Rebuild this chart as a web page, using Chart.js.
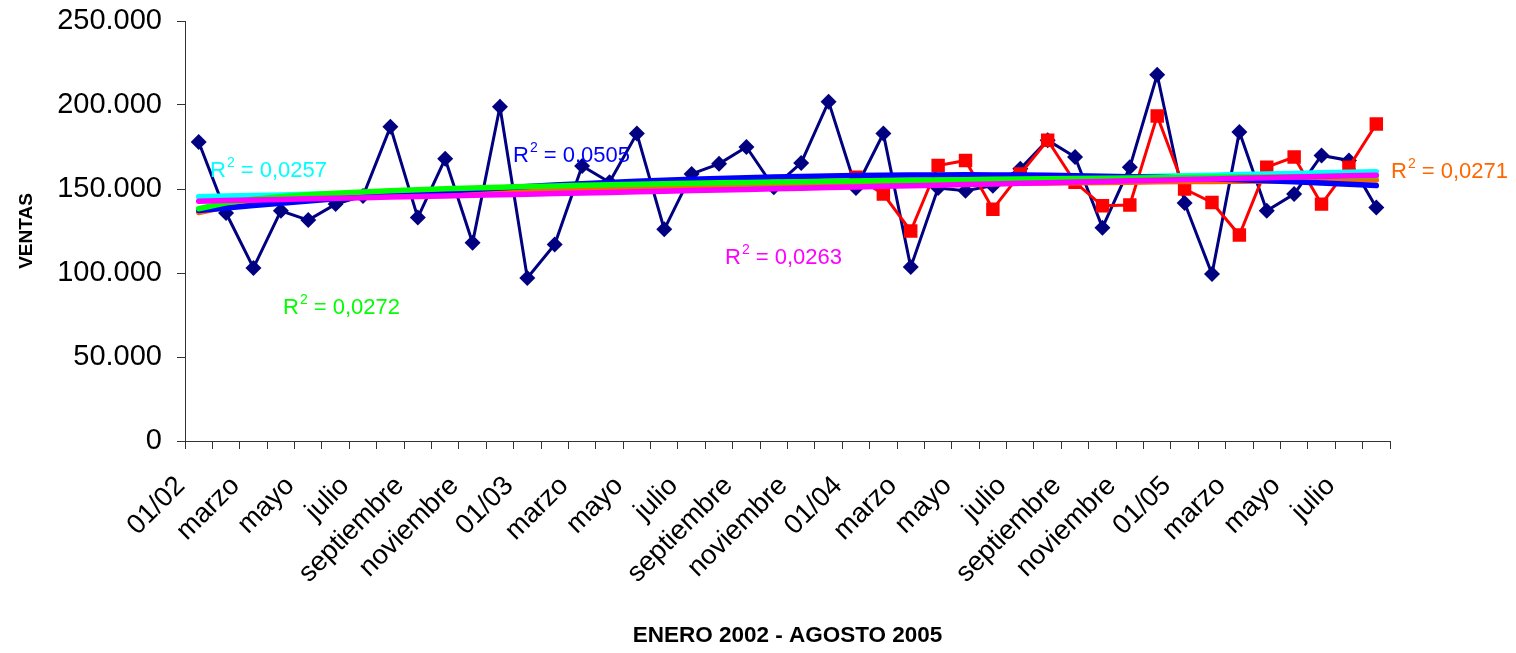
<!DOCTYPE html>
<html>
<head>
<meta charset="utf-8">
<script src="https://cdn.jsdelivr.net/npm/chart.js@4.4.0/dist/chart.umd.min.js"></script>
<style>
  html, body { margin: 0; padding: 0; background: #ffffff; }
  #wrap { width: 1516px; height: 653px; }
</style>
</head>
<body>
<div id="wrap"><canvas id="grafico" width="1516" height="653"></canvas></div>
<script>
// Meses de enero 2002 a agosto 2005
const categories = [
  '01/02','febrero','marzo','abril','mayo','junio','julio','agosto','septiembre','octubre','noviembre','diciembre',
  '01/03','febrero','marzo','abril','mayo','junio','julio','agosto','septiembre','octubre','noviembre','diciembre',
  '01/04','febrero','marzo','abril','mayo','junio','julio','agosto','septiembre','octubre','noviembre','diciembre',
  '01/05','febrero','marzo','abril','mayo','junio','julio','agosto'
];

// Ventas mensuales
const ventas = [
  178000, 135700, 103000, 137000, 131500, 141000, 145800, 187000, 133000, 168000, 118000, 199000,
   97000, 117000, 163700, 154000, 183000, 126000, 159000, 165000, 175000, 151000, 165500, 202000,
  150600, 183000, 103500, 150600, 149000, 152000, 162000, 179000, 169000, 127000, 163000, 218000,
  141700,  99400, 184000, 137000, 147000, 170000, 167000, 139000
];

// Segunda serie (enero 2004 - agosto 2005)
const serieRoja = [
  null, null, null, null, null, null, null, null, null, null, null, null,
  null, null, null, null, null, null, null, null, null, null, null, null,
  157000, 147000, 125000, 164000, 167000, 138000, 159000, 179000, 154000, 140000, 140500, 193500,
  150000, 142000, 122600, 163000, 169000, 141000, 163000, 188700
];

// Coeficientes de determinación de cada línea de tendencia
const r2Lineal = '0,0257';
const r2Polinomica = '0,0505';
const r2Exponencial = '0,0263';
const r2Logaritmica = '0,0272';
const r2Potencial = '0,0271';

const FONT = "'Liberation Sans', Arial, sans-serif";

// Mínimos cuadrados por ecuaciones normales
function minimosCuadrados(filas, y) {
  const k = filas[0].length;
  const A = Array.from({ length: k }, () => new Array(k).fill(0));
  const b = new Array(k).fill(0);
  filas.forEach((f, i) => {
    for (let p = 0; p < k; p++) {
      b[p] += f[p] * y[i];
      for (let q = 0; q < k; q++) A[p][q] += f[p] * f[q];
    }
  });
  for (let p = 0; p < k; p++) {
    let m = p;
    for (let r = p + 1; r < k; r++) if (Math.abs(A[r][p]) > Math.abs(A[m][p])) m = r;
    [A[p], A[m]] = [A[m], A[p]];
    [b[p], b[m]] = [b[m], b[p]];
    for (let r = p + 1; r < k; r++) {
      const f = A[r][p] / A[p][p];
      for (let q = p; q < k; q++) A[r][q] -= f * A[p][q];
      b[r] -= f * b[p];
    }
  }
  const c = new Array(k).fill(0);
  for (let p = k - 1; p >= 0; p--) {
    let s = b[p];
    for (let q = p + 1; q < k; q++) s -= A[p][q] * c[q];
    c[p] = s / A[p][p];
  }
  return c;
}

const xs = ventas.map((_, i) => i + 1);
const lnY = ventas.map(v => Math.log(v));

const cLin = minimosCuadrados(xs.map(x => [1, x]), ventas);
const cLog = minimosCuadrados(xs.map(x => [1, Math.log(x)]), ventas);
const cPot = minimosCuadrados(xs.map(x => [1, Math.log(x)]), lnY);
const cExp = minimosCuadrados(xs.map(x => [1, x]), lnY);
const cPol = minimosCuadrados(xs.map(x => [1, x, x * x]), ventas);

const tendLineal = xs.map(x => cLin[0] + cLin[1] * x);
const tendLog = xs.map(x => cLog[0] + cLog[1] * Math.log(x));
const tendPot = xs.map(x => Math.exp(cPot[0] + cPot[1] * Math.log(x)));
const tendExp = xs.map(x => Math.exp(cExp[0] + cExp[1] * x));
const tendPol = xs.map(x => cPol[0] + cPol[1] * x + cPol[2] * x * x);

function tendencia(datos, color, orden) {
  return {
    data: datos, borderColor: color, backgroundColor: color, borderWidth: 5.5,
    borderCapStyle: 'round', pointRadius: 0, pointHoverRadius: 0, tension: 0, order: orden
  };
}

// Etiquetas R² junto a las líneas de tendencia
const etiquetasR2 = {
  id: 'etiquetasR2',
  afterDatasetsDraw(chart) {
    const ctx = chart.ctx;
    const items = [
      { v: r2Lineal, color: '#00FFFF', x: 210, y: 177 },
      { v: r2Polinomica, color: '#0000FF', x: 513, y: 162 },
      { v: r2Exponencial, color: '#FF00FF', x: 725, y: 264 },
      { v: r2Logaritmica, color: '#00FF00', x: 283, y: 314 },
      { v: r2Potencial, color: '#FF6600', x: 1391, y: 178 }
    ];
    ctx.save();
    ctx.textBaseline = 'alphabetic';
    ctx.textAlign = 'left';
    items.forEach(it => {
      ctx.fillStyle = it.color;
      ctx.font = `22px ${FONT}`;
      let x = it.x;
      ctx.fillText('R', x, it.y);
      x += ctx.measureText('R').width + 1;
      ctx.font = `14px ${FONT}`;
      ctx.fillText('2', x, it.y - 10);
      x += ctx.measureText('2').width;
      ctx.font = `22px ${FONT}`;
      ctx.fillText(' = ' + it.v, x, it.y);
    });
    ctx.restore();
  }
};

const miles = v => String(v).replace(/\B(?=(\d{3})+(?!\d))/g, '.');

new Chart(document.getElementById('grafico'), {
  type: 'line',
  data: {
    labels: categories,
    datasets: [
      tendencia(tendPol, '#0000FF', 3),
      tendencia(tendExp, '#FF00FF', 1),
      tendencia(tendPot, '#FF6600', 4),
      tendencia(tendLog, '#00FF00', 2),
      tendencia(tendLineal, '#00FFFF', 5),
      {
        data: serieRoja, borderColor: '#FF0000', backgroundColor: '#FF0000', borderWidth: 3,
        pointStyle: 'rect', pointRadius: 9.5, pointBorderWidth: 0, tension: 0, order: 9
      },
      {
        data: ventas, borderColor: '#000080', backgroundColor: '#000080', borderWidth: 3,
        pointStyle: 'rectRot', pointRadius: 8, pointBorderWidth: 0, tension: 0, order: 10
      }
    ]
  },
  options: {
    responsive: false,
    animation: false,
    devicePixelRatio: 1,
    layout: { padding: { top: 21, right: 126, left: 0, bottom: 0 } },
    plugins: { legend: { display: false }, tooltip: { enabled: false } },
    scales: {
      x: {
        offset: true,
        grid: { display: true, drawOnChartArea: false, offset: true, tickLength: 8, color: '#333333', lineWidth: 1 },
        border: { color: '#333333', width: 1 },
        ticks: {
          autoSkip: false, maxRotation: 45, minRotation: 45, padding: 21, labelOffset: -18, color: '#000000',
          font: { family: FONT, size: 27.5 },
          callback: (v, i) => (i % 2 === 0 ? categories[i] : '')
        },
        title: {
          display: true, text: 'ENERO 2002 - AGOSTO 2005', color: '#000000',
          font: { family: FONT, size: 22.5, weight: 'bold' }, padding: { top: 0, bottom: 4 }
        },
        afterFit: s => { s.height = 212; }
      },
      y: {
        min: 0, max: 250000,
        grid: { display: true, drawOnChartArea: false, tickLength: 8, color: '#333333', lineWidth: 1 },
        border: { color: '#333333', width: 1 },
        ticks: {
          stepSize: 50000, padding: 15, color: '#000000',
          font: { family: FONT, size: 29 },
          callback: v => miles(v)
        },
        title: {
          display: true, text: 'VENTAS', color: '#000000',
          font: { family: FONT, size: 19, weight: 'bold' }, padding: { top: 15, bottom: 0 }
        },
        afterFit: s => { s.width = 185; s.paddingTop = 0; s.paddingBottom = 0; }
      }
    }
  },
  plugins: [etiquetasR2]
});
</script>
</body>
</html>
